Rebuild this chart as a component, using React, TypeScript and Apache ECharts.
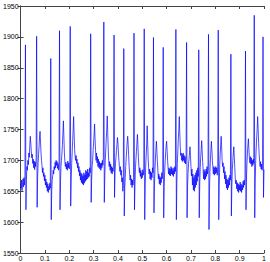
import React, { useEffect, useRef } from "react";
import * as echarts from "echarts";

const xTickLabels = ["0", "0.1", "0.2", "0.3", "0.4", "0.5", "0.6", "0.7", "0.8", "0.9", "1"];
const yTickLabels = ["1550", "1600", "1650", "1700", "1750", "1800", "1850", "1900", "1950"];
const sampleStep = 0.002;

const signal: number[] = [
  1662, 1655, 1668, 1651, 1664, 1670, 1657, 1672, 1660, 1675,
  1887, 1620, 1668, 1690, 1684, 1700, 1693, 1712, 1705, 1726,
  1739, 1728, 1715, 1704, 1710, 1695, 1702, 1688, 1699, 1685,
  1697, 1690, 1703, 1901, 1624, 1672, 1695, 1710, 1722, 1738,
  1747, 1730, 1712, 1700, 1692, 1680, 1688, 1674, 1680, 1667,
  1676, 1660, 1670, 1656, 1665, 1650, 1662, 1648, 1658, 1652,
  1663, 1655, 1865, 1604, 1650, 1668, 1675, 1684, 1678, 1690,
  1685, 1697, 1688, 1700, 1692, 1698, 1687, 1695, 1684, 1692,
  1910, 1620, 1664, 1690, 1700, 1712, 1726, 1745, 1764, 1738,
  1712, 1698, 1690, 1697, 1686, 1694, 1684, 1699, 1688, 1696,
  1686, 1692, 1917, 1626, 1670, 1695, 1712, 1732, 1750, 1771,
  1742, 1718, 1706, 1700, 1708, 1695, 1702, 1688, 1696, 1682,
  1690, 1675, 1684, 1668, 1680, 1664, 1678, 1662, 1675, 1660,
  1680, 1663, 1677, 1666, 1684, 1668, 1682, 1670, 1686, 1672,
  1680, 1674, 1688, 1680, 1905, 1632, 1668, 1690, 1700, 1716,
  1728, 1742, 1759, 1735, 1716, 1700, 1712, 1696, 1706, 1690,
  1702, 1688, 1698, 1686, 1695, 1684, 1696, 1688, 1700, 1692,
  1704, 1924, 1632, 1675, 1700, 1718, 1735, 1750, 1772, 1745,
  1720, 1700, 1690, 1698, 1684, 1694, 1680, 1690, 1678, 1688,
  1682, 1694, 1903, 1640, 1680, 1695, 1705, 1716, 1726, 1737,
  1728, 1712, 1700, 1690, 1682, 1690, 1676, 1684, 1665, 1672,
  1650, 1660, 1881, 1610, 1655, 1672, 1690, 1705, 1718, 1730,
  1739, 1726, 1708, 1690, 1678, 1668, 1676, 1660, 1670, 1656,
  1668, 1660, 1672, 1906, 1620, 1662, 1688, 1702, 1715, 1728,
  1742, 1726, 1705, 1690, 1680, 1688, 1674, 1684, 1670, 1680,
  1672, 1685, 1676, 1684, 1913, 1604, 1660, 1690, 1707, 1725,
  1756, 1730, 1705, 1688, 1678, 1686, 1670, 1682, 1668, 1680,
  1672, 1688, 1680, 1899, 1615, 1660, 1685, 1702, 1718, 1731,
  1715, 1698, 1684, 1670, 1678, 1662, 1674, 1660, 1672, 1664,
  1680, 1670, 1684, 1883, 1607, 1658, 1682, 1698, 1712, 1724,
  1731, 1716, 1700, 1688, 1678, 1688, 1676, 1686, 1675, 1690,
  1678, 1688, 1676, 1685, 1674, 1688, 1678, 1690, 1682, 1912,
  1604, 1665, 1695, 1715, 1735, 1750, 1771, 1745, 1722, 1708,
  1712, 1700, 1710, 1698, 1712, 1700, 1708, 1696, 1706, 1694,
  1702, 1891, 1607, 1660, 1680, 1694, 1702, 1712, 1722, 1708,
  1690, 1675, 1686, 1660, 1678, 1652, 1672, 1650, 1676, 1656,
  1680, 1660, 1684, 1666, 1688, 1674, 1879, 1607, 1662, 1688,
  1705, 1718, 1732, 1716, 1698, 1684, 1670, 1685, 1668, 1682,
  1670, 1686, 1674, 1690, 1678, 1686, 1904, 1588, 1650, 1682,
  1702, 1718, 1731, 1716, 1700, 1688, 1678, 1690, 1676, 1688,
  1678, 1690, 1680, 1688, 1676, 1686, 1911, 1604, 1660, 1690,
  1710, 1725, 1739, 1722, 1700, 1690, 1696, 1680, 1690, 1670,
  1682, 1662, 1676, 1655, 1670, 1652, 1668, 1656, 1672, 1660,
  1676, 1668, 1872, 1610, 1660, 1685, 1700, 1712, 1722, 1705,
  1688, 1670, 1662, 1668, 1654, 1664, 1650, 1662, 1648, 1660,
  1652, 1665, 1650, 1662, 1648, 1660, 1652, 1666, 1656, 1668,
  1660, 1672, 1877, 1620, 1670, 1695, 1712, 1725, 1735, 1718,
  1704, 1696, 1706, 1694, 1704, 1690, 1700, 1692, 1702, 1695,
  1935, 1607, 1670, 1700, 1720, 1738, 1752, 1771, 1750, 1728,
  1710, 1698, 1690, 1698, 1686, 1694, 1684, 1692, 1900, 1640,
  1685,
];

export default function App() {
  const ref = useRef<HTMLDivElement>(null);
  useEffect(() => {
    document.body.style.margin = "0";
    if (!ref.current) return;
    const chart = echarts.init(ref.current, undefined, { renderer: "svg" });
    const data = signal.map((v, i) => [Number((i * sampleStep).toFixed(3)), v]);
    const axisLine = { show: true, lineStyle: { color: "#444", width: 1 } };
    const font = { fontFamily: "Liberation Sans, Arial, sans-serif", fontSize: 7, color: "#000" };
    chart.setOption({
      animation: false,
      backgroundColor: "#fff",
      grid: { left: 18, right: 6, top: 6, bottom: 8.5, containLabel: false },
      xAxis: [
        {
          type: "value", min: 0, max: 1, interval: 0.1, position: "bottom",
          axisLine, axisTick: { show: true, inside: true, length: 3, lineStyle: { color: "#444" } },
          axisLabel: { ...font, margin: 2, formatter: (v: number) => xTickLabels[Math.round(v * 10)] },
          splitLine: { show: false },
        },
        {
          type: "value", min: 0, max: 1, interval: 0.1, position: "top",
          axisLine, axisTick: { show: true, inside: true, length: 3, lineStyle: { color: "#444" } },
          axisLabel: { show: false }, splitLine: { show: false },
        },
      ],
      yAxis: [
        {
          type: "value", min: 1550, max: 1950, interval: 50, position: "left",
          axisLine, axisTick: { show: true, inside: true, length: 3, lineStyle: { color: "#444" } },
          axisLabel: { ...font, margin: 2, formatter: (v: number) => yTickLabels[Math.round((v - 1550) / 50)] },
          splitLine: { show: false },
        },
        {
          type: "value", min: 1550, max: 1950, interval: 50, position: "right",
          axisLine, axisTick: { show: true, inside: true, length: 3, lineStyle: { color: "#444" } },
          axisLabel: { show: false }, splitLine: { show: false },
        },
      ],
      series: [
        {
          type: "line", data, xAxisIndex: 0, yAxisIndex: 0, showSymbol: false, symbol: "none",
          lineStyle: { color: "#0000ff", width: 0.7 }, silent: true,
        },
      ],
    });
    return () => chart.dispose();
  }, []);
  return <div ref={ref} style={{ width: 270, height: 262 }} />;
}
